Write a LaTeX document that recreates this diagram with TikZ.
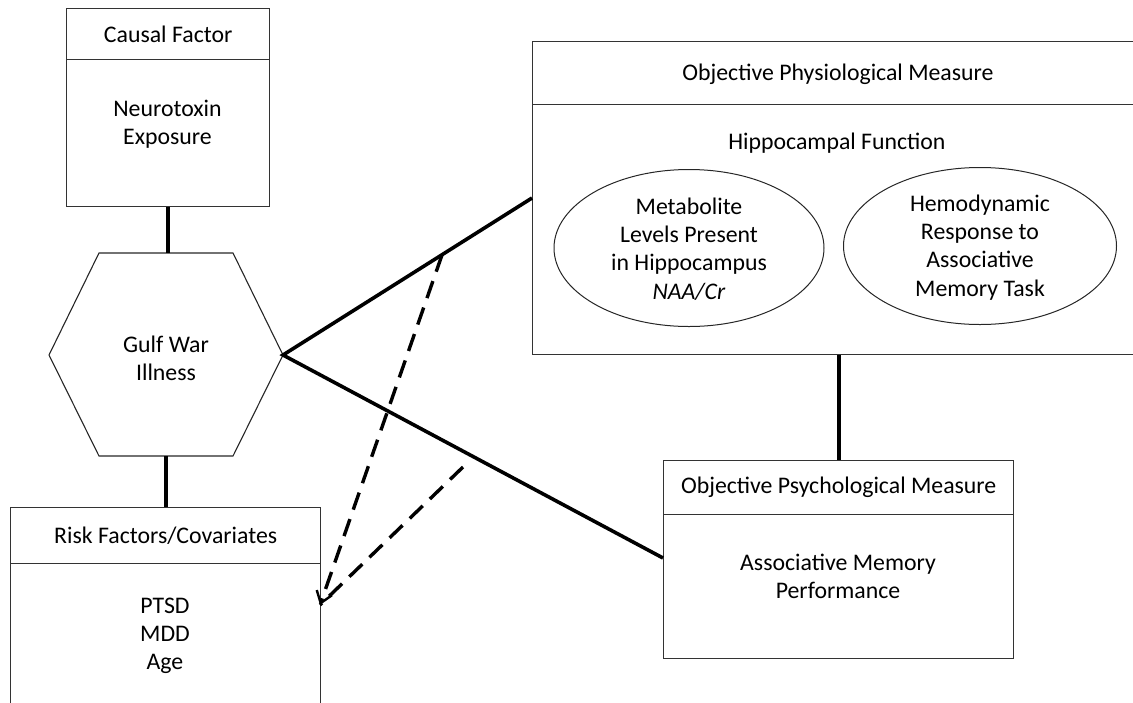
\documentclass[tikz,border=0pt]{standalone}
\usepackage{fontspec}
\setmainfont{Carlito}
\usetikzlibrary{shapes.geometric,arrows.meta,calc}
\begin{document}
\begin{tikzpicture}[x=1pt,y=-1pt,
  every node/.style={font=\fontsize{23.8}{28.2}\selectfont, inner sep=0pt, align=center},
  boxpart/.style={draw=black!80, line width=1.4pt, rectangle, anchor=north west},
  ell/.style={draw=black!85, line width=1pt, ellipse, minimum width=270pt, minimum height=157pt},
  hexline/.style={draw=black!85, line width=1.1pt, line join=miter},
  link/.style={line width=3.6pt, black},
  dlink/.style={line width=3.4pt, black, dash pattern=on 18pt off 10pt},
]
\useasboundingbox (0,0) rectangle (1133,702);
% Causal factor box
\node[boxpart, minimum width=203pt, minimum height=51pt] (cfh) at (66,8) {};
\node[boxpart, minimum width=203pt, minimum height=147pt] (cfb) at (66,59) {};
\node (cft) at (cfh.center) {Causal Factor};
\node (cfx) at (167.5,124) {Neurotoxin\\Exposure};
% Hexagon
\coordinate (hT1) at (99,253);
\coordinate (hT2) at (233,253);
\coordinate (hR) at (283,355);
\coordinate (hB2) at (233,456);
\coordinate (hB1) at (99,456);
\coordinate (hL) at (49,355);
\draw[hexline] (hT1) -- (hT2) -- (hR) -- (hB2) -- (hB1) -- (hL) -- cycle;
\node (gwi) at (166,358) {Gulf War\\Illness};
% Risk factors box
\node[boxpart, minimum width=310pt, minimum height=56pt] (rfh) at (10,507) {};
\node[boxpart, minimum width=310pt, minimum height=160pt] (rfb) at (10,563) {};
\node (rft) at (rfh.center) {Risk Factors/Covariates};
\node (rfx) at (165,636) {PTSD\\MDD\\Age};
% Physiological box (runs off the right edge)
\node[boxpart, minimum width=640pt, minimum height=63pt] (pph) at (532,41) {};
\node[boxpart, minimum width=640pt, minimum height=250pt] (ppb) at (532,104) {};
\node (ppt) at (838,74) {Objective Physiological Measure};
\node (hip) at (837,143) {Hippocampal Function};
\node[ell] (e1) at (689,248) {};
\node (e1t) at (689,249) {Metabolite\\Levels Present\\in Hippocampus\\\textit{NAA/Cr}};
\node[ell, minimum width=273pt] (e2) at (980,246) {};
\node (e2t) at (980,247.5) {Hemodynamic\\Response to\\Associative\\Memory Task};
% Psychological box
\node[boxpart, minimum width=350pt, minimum height=54pt] (psh) at (663,460) {};
\node[boxpart, minimum width=350pt, minimum height=144pt] (psb) at (663,514) {};
\node (pst) at (psh.center) {Objective Psychological Measure};
\node (psx) at (838,576) {Associative Memory\\Performance};
% connector end points
\coordinate (pIn) at (532,198);
\coordinate (sIn) at (663,558);
\coordinate (tip) at (320,605);
\coordinate (d1) at ($(hR)!0.639!(pIn)$);
\coordinate (d2) at (463,467);
% Connectors
\draw[link] (cfb.south) -- (cfb.south |- hT1);
\draw[link] (hB1 -| rfh.north) -- (rfh.north);
\draw[link, line join=miter] (pIn) -- (hR) -- (sIn);
\draw[link] (psh.north |- ppb.south) -- (psh.north);
\draw[dlink, -{Straight Barb[length=11pt,width=16pt,line width=2.4pt]}] (d1) -- (tip);
\draw[dlink] (d2) -- (tip);
\end{tikzpicture}
\end{document}
